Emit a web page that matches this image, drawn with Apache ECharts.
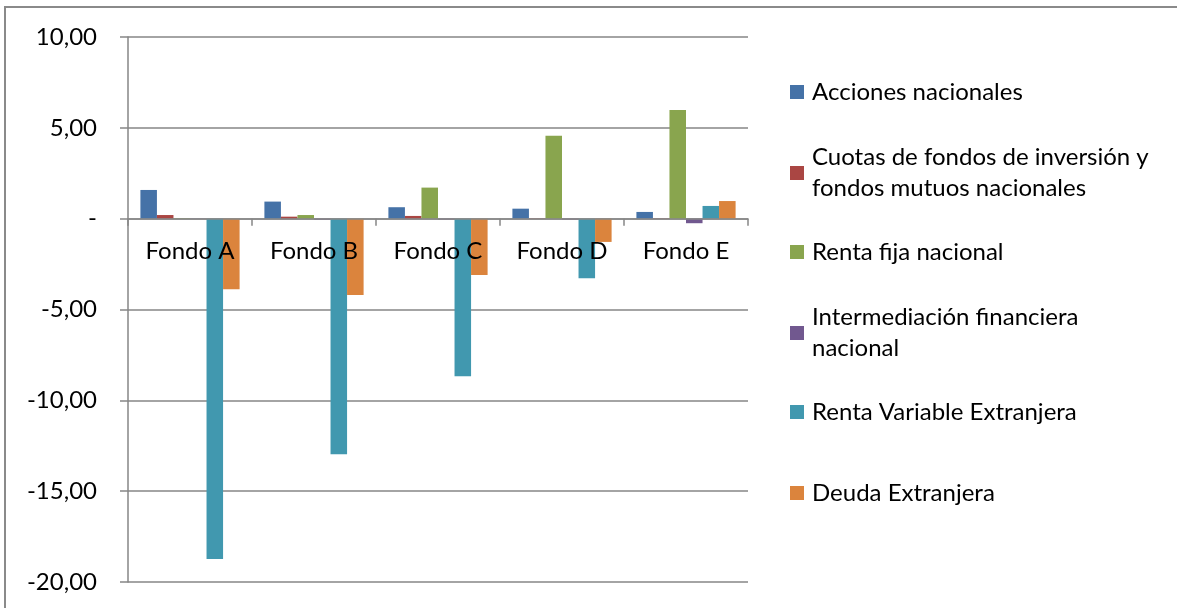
<!DOCTYPE html>
<html>
<head>
<meta charset="utf-8">
<script src="https://cdn.jsdelivr.net/npm/echarts@6/dist/echarts.min.js"></script>
<style>
html,body{margin:0;padding:0;background:#fff;}
#chart{width:1177px;height:608px;}
</style>
</head>
<body>
<div id="chart"></div>
<script>
const categories = ['Fondo A', 'Fondo B', 'Fondo C', 'Fondo D', 'Fondo E'];
const seriesNames = [
  'Acciones nacionales',
  'Cuotas de fondos de inversión y fondos mutuos nacionales',
  'Renta fija nacional',
  'Intermediación financiera nacional',
  'Renta Variable Extranjera',
  'Deuda Extranjera'
];
const legendLabels = [
  'Acciones nacionales',
  'Cuotas de fondos de inversión y\nfondos mutuos nacionales',
  'Renta fija nacional',
  'Intermediación financiera\nnacional',
  'Renta Variable Extranjera',
  'Deuda Extranjera'
];
const accionesNacionales = [1.58, 0.94, 0.63, 0.55, 0.37];
const cuotasFondos = [0.20, 0.11, 0.15, 0.02, 0.02];
const rentaFijaNacional = [0.03, 0.20, 1.71, 4.57, 5.98];
const intermediacionFinanciera = [-0.01, -0.05, -0.04, -0.04, -0.25];
const rentaVariableExtranjera = [-18.73, -12.97, -8.67, -3.28, 0.70];
const deudaExtranjera = [-3.89, -4.20, -3.10, -1.28, 0.97];
const yTicks = { min: -20, max: 10, interval: 5 };

const seriesData = [accionesNacionales, cuotasFondos, rentaFijaNacional, intermediacionFinanciera, rentaVariableExtranjera, deudaExtranjera];
const colors = ['#4572A7', '#AA4643', '#89A54E', '#71588F', '#4198AF', '#DB843D'];
const FONT = 'Lato';
const FS = 24;
const grey = '#868686';

// grid layout
const gridTop = 37, gridBottom = 26, H = 608;
const plotH = H - gridTop - gridBottom;
const zeroFromBottom = plotH * (0 - yTicks.min) / (yTicks.max - yTicks.min);

const legendCenters = [92, 173, 252, 333, 412, 493];
const legends = seriesNames.map((name, i) => {
  const twoLine = legendLabels[i].indexOf('\n') >= 0;
  return {
    show: true,
    left: 790,
    top: legendCenters[i] - (twoLine ? 46.5 : 15.5),
    orient: 'vertical',
    padding: 0,
    itemWidth: 14,
    itemHeight: 14,
    icon: 'rect',
    data: [name],
    formatter: () => legendLabels[i],
    textStyle: {
      fontFamily: FONT,
      fontSize: FS,
      color: '#000',
      lineHeight: 31,
      padding: twoLine ? [31, 0, 0, 3] : [0, 0, 0, 3]
    }
  };
});

const chart = echarts.init(document.getElementById('chart'));
chart.setOption({
  animation: false,
  color: colors,
  legend: legends,
  grid: { left: 128, right: 429, top: gridTop, bottom: gridBottom, containLabel: false, outerBoundsMode: 'none' },
  graphic: [{
    type: 'polyline',
    shape: { points: [[5, 608], [5, 7], [1177, 7]] },
    style: { stroke: '#8a8a8a', lineWidth: 2, fill: null },
    silent: true
  }],
  xAxis: {
    type: 'category',
    data: categories,
    position: 'bottom',
    offset: -zeroFromBottom,
    z: 5,
    axisLine: { show: true, onZero: false, lineStyle: { color: grey, width: 1.5 } },
    axisTick: { show: true, length: 7, inside: false, lineStyle: { color: grey, width: 1.5 } },
    axisLabel: { fontFamily: FONT, fontSize: FS, color: '#000', margin: 21 },
    splitLine: { show: false }
  },
  yAxis: {
    type: 'value',
    min: yTicks.min,
    max: yTicks.max,
    interval: yTicks.interval,
    axisLine: { show: true, lineStyle: { color: grey, width: 1.5 } },
    axisTick: { show: true, length: 8, lineStyle: { color: grey, width: 1.5 } },
    axisLabel: {
      fontFamily: FONT, fontSize: FS, color: '#000', margin: 31,
      formatter: v => v === 0 ? '-' : v.toFixed(2).replace('.', ',')
    },
    splitLine: { show: true, lineStyle: { color: grey, width: 1.5 } }
  },
  series: seriesNames.map((name, i) => ({
    name: name,
    type: 'bar',
    data: seriesData[i],
    barGap: '0%',
    barCategoryGap: '20%',
    itemStyle: { color: colors[i] }
  }))
});
</script>
</body>
</html>
